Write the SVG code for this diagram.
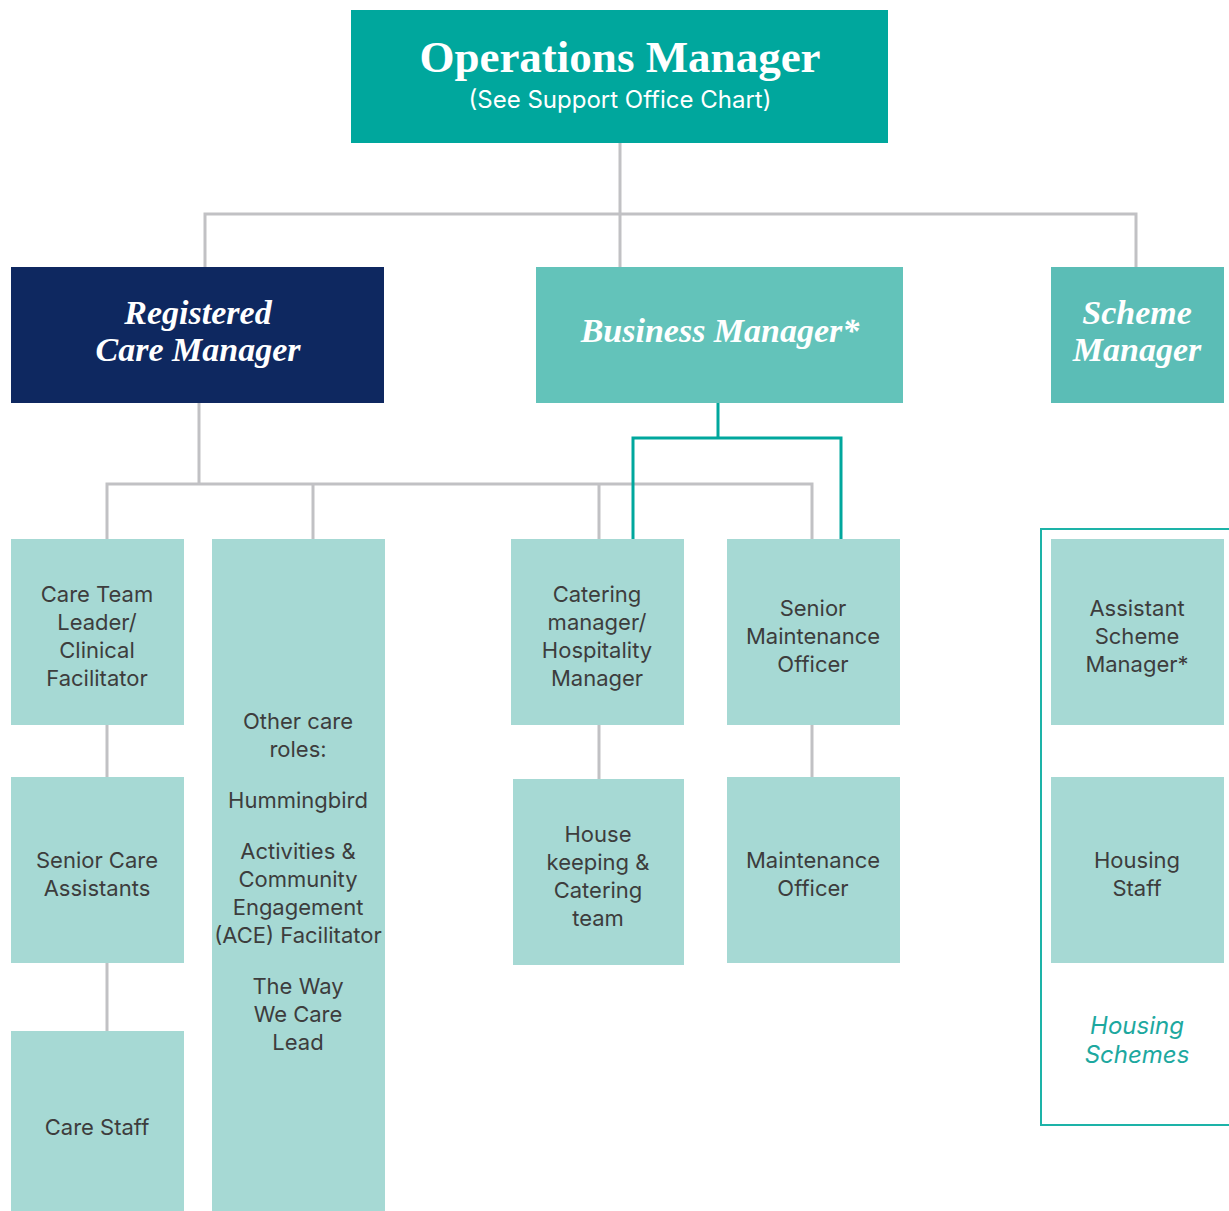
<svg xmlns="http://www.w3.org/2000/svg" width="1229" height="1211" viewBox="0 0 1229 1211">
<style>
.lt{fill:#A6D9D4}
.t{font-family:Inter,"Noto Sans","Liberation Sans",sans-serif;font-size:22px;fill:#3d3d3d;text-anchor:middle}
.h{font-family:"Liberation Serif","DejaVu Serif",serif;font-weight:bold;font-style:italic;font-size:34px;fill:#fff;text-anchor:middle}
.g{fill:none;stroke:#c1c1c4;stroke-width:3}
.k{fill:none;stroke:#00A79D;stroke-width:3}
</style>
<rect width="1229" height="1211" fill="#fff"/>
<g id="connectors">
<path class="g" d="M620 143V214M205 267V214H1136V267M620 214V267"/>
<path class="g" d="M199 403V484M107 539V484H812V539M313 484V539M599 484V539"/>
<path class="g" d="M107 725V777M107 963V1031M599 725V779M812 725V777"/>
<path class="k" d="M718 403V438M633 539V438H841V539"/>
</g>
<g id="ops"><rect x="351" y="10" width="537" height="133" fill="#00A79D"/>
<text x="620" y="72" text-anchor="middle" font-family="'Liberation Serif','DejaVu Serif',serif" font-weight="bold" font-size="45" fill="#fff">Operations Manager</text>
<text x="620" y="108" text-anchor="middle" font-family="Inter,'Noto Sans',sans-serif" font-size="24" fill="#fff">(See Support Office Chart)</text></g>
<g id="rcm"><rect x="11" y="267" width="373" height="136" fill="#0E2860"/>
<text class="h" x="198" y="324">Registered</text><text class="h" x="198" y="361">Care Manager</text></g>
<g id="bm"><rect x="536" y="267" width="367" height="136" fill="#63C3BA"/>
<text class="h" x="720" y="342">Business Manager*</text></g>
<g id="sm"><rect x="1051" y="267" width="173" height="136" fill="#5BBDB6"/>
<text class="h" x="1137" y="324">Scheme</text><text class="h" x="1137" y="361">Manager</text></g>
<g id="ctl"><rect class="lt" x="11" y="539" width="173" height="186"/>
<text class="t" x="97" y="602">Care Team</text><text class="t" x="97" y="630">Leader/</text><text class="t" x="97" y="658">Clinical</text><text class="t" x="97" y="686">Facilitator</text></g>
<g id="sca"><rect class="lt" x="11" y="777" width="173" height="186"/>
<text class="t" x="97" y="868">Senior Care</text><text class="t" x="97" y="896">Assistants</text></g>
<g id="cs"><rect class="lt" x="11" y="1031" width="173" height="180"/>
<text class="t" x="97" y="1135">Care Staff</text></g>
<g id="ocr"><rect class="lt" x="212" y="539" width="173" height="672"/>
<text class="t" x="298" y="729">Other care</text><text class="t" x="298" y="757">roles:</text>
<text class="t" x="298" y="808">Hummingbird</text>
<text class="t" x="298" y="859">Activities &amp;</text><text class="t" x="298" y="887">Community</text><text class="t" x="298" y="915">Engagement</text><text class="t" x="298" y="943">(ACE) Facilitator</text>
<text class="t" x="298" y="994">The Way</text><text class="t" x="298" y="1022">We Care</text><text class="t" x="298" y="1050">Lead</text></g>
<g id="cat"><rect class="lt" x="511" y="539" width="173" height="186"/>
<text class="t" x="597" y="602">Catering</text><text class="t" x="597" y="630">manager/</text><text class="t" x="597" y="658">Hospitality</text><text class="t" x="597" y="686">Manager</text></g>
<g id="hk"><rect class="lt" x="513" y="779" width="171" height="186"/>
<text class="t" x="598" y="842">House</text><text class="t" x="598" y="870">keeping &amp;</text><text class="t" x="598" y="898">Catering</text><text class="t" x="598" y="926">team</text></g>
<g id="smo"><rect class="lt" x="727" y="539" width="173" height="186"/>
<text class="t" x="813" y="616">Senior</text><text class="t" x="813" y="644">Maintenance</text><text class="t" x="813" y="672">Officer</text></g>
<g id="mo"><rect class="lt" x="727" y="777" width="173" height="186"/>
<text class="t" x="813" y="868">Maintenance</text><text class="t" x="813" y="896">Officer</text></g>
<g id="hs-group"><rect x="1041" y="529" width="200" height="596" fill="none" stroke="#1DB3A8" stroke-width="2"/>
<text x="1137" y="1034" text-anchor="middle" font-family="Inter,'Noto Sans',sans-serif" font-style="italic" font-size="24" fill="#1DA89F">Housing</text>
<text x="1137" y="1063" text-anchor="middle" font-family="Inter,'Noto Sans',sans-serif" font-style="italic" font-size="24" fill="#1DA89F">Schemes</text></g>
<g id="asm"><rect class="lt" x="1051" y="539" width="173" height="186"/>
<text class="t" x="1137" y="616">Assistant</text><text class="t" x="1137" y="644">Scheme</text><text class="t" x="1137" y="672">Manager*</text></g>
<g id="hst"><rect class="lt" x="1051" y="777" width="173" height="186"/>
<text class="t" x="1137" y="868">Housing</text><text class="t" x="1137" y="896">Staff</text></g>
</svg>
